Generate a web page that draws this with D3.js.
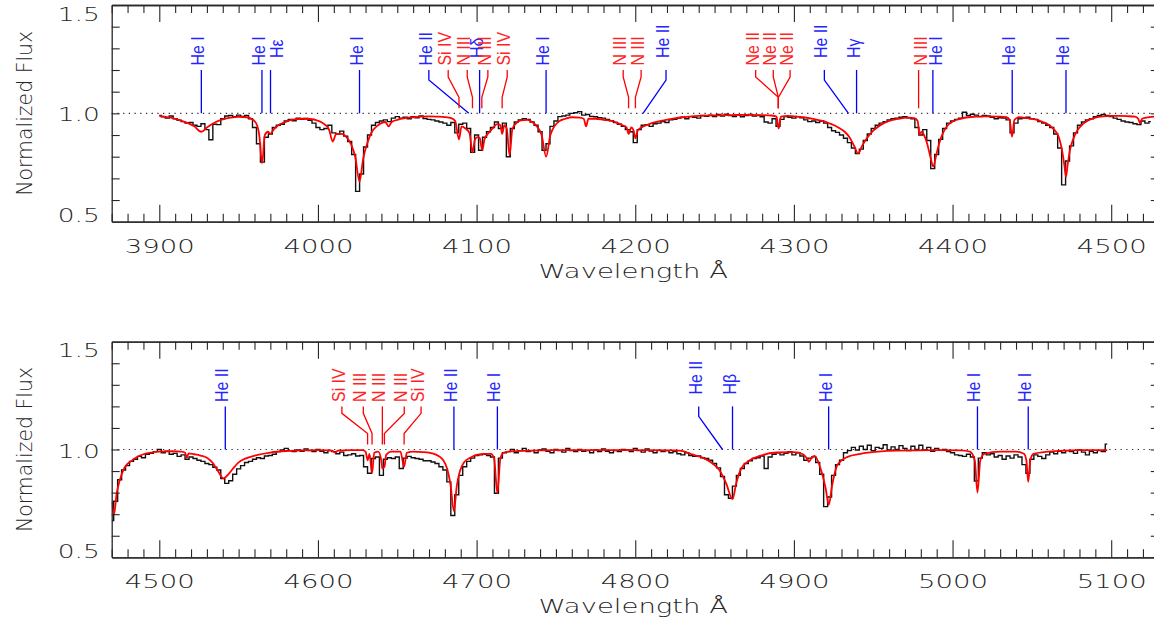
<!DOCTYPE html>
<html>
<head>
<meta charset="utf-8">
<script src="https://cdn.jsdelivr.net/npm/d3@7"></script>
<style>
body { margin: 0; background: #fff; }
svg { display: block; }
</style>
</head>
<body>
<svg id="chart" width="1154" height="622"></svg>
<script>
// ---- data ----

const obsStep = 2.5;               // observed spectrum bin width (Angstrom)
const topObsStart = 3900;
const topObsFlux = [
  .990, .984, .978, .988, .975, .968, .962, .955, .958, .945,
  .940, .952, .925, .878, .950, .948, .975, .988, .990, .985,
  .992, .986, .990, .975, .935, .860, .775, .890, .905, .935,
  .945, .950, .965, .972, .966, .978, .972, .976, .968, .955,
  .935, .925, .930, .945, .910, .905, .918, .895, .870, .810,
  .640, .720, .845, .900, .945, .958, .965, .970, .962, .978,
  .985, .978, .982, .975, .985, .980, .988, .976, .972, .970,
  .965, .960, .955, .945, .958, .910, .950, .955, .930, .820,
  .900, .830, .890, .915, .935, .960, .930, .955, .800, .930,
  .960, .970, .975, .972, .960, .945, .915, .830, .860, .940,
  .965, .985, .988, .992, 1.000, 1.003, 1.008, .992, .995, .986,
  .984, .980, .978, .972, .966, .958, .950, .940, .925, .915,
  .865, .925, .945, .948, .940, .952, .955, .962, .958, .970,
  .972, .978, .982, .975, .985, .982, .978, .990, .986, .992,
  .985, .995, .988, .996, .990, .985, .992, .984, .990, .995,
  .988, .990, .984, .960, .955, .975, .940, .972, .985, .982,
  .978, .985, .980, .970, .962, .965, .958, .965, .955, .935,
  .920, .912, .900, .885, .865, .840, .815, .835, .875, .905,
  .930, .945, .955, .962, .970, .975, .978, .982, .985, .980,
  .975, .935, .900, .925, .875, .745, .810, .880, .930, .955,
  .965, .972, .978, 1.005, .990, .996, .992, .985, .990, .988,
  .982, .975, .980, .978, .970, .910, .955, .975, .978, .982,
  .975, .972, .962, .955, .945, .935, .905, .840, .670, .780,
  .850, .910, .945, .960, .970, .975, .985, .990, .995, .990,
  .985, .978, .972, .965, .960, .958, .952, .948, .965, .955,
  .962
];

const topModel = [
  [3900, .988], [3910, .975], [3918, .955], [3922, .940], [3926.5, .915], [3930, .935],
  [3935, .958], [3940, .972], [3945, .980], [3950, .984], [3955, .982], [3958, .975],
  [3961, .955], [3963, .900], [3964.8, .770], [3966.5, .900], [3968.5, .915], [3970.1, .905],
  [3972, .925], [3975, .945], [3980, .962], [3985, .972], [3990, .975], [3995, .974],
  [4000, .966], [4004, .950], [4007, .925], [4009.3, .870], [4011.5, .905], [4015, .905],
  [4018, .890], [4021, .855], [4023.5, .800], [4026.2, .685], [4028.5, .790], [4031, .860],
  [4034, .915], [4037, .940], [4040, .955], [4042.5, .960], [4044.5, .940], [4046.5, .960],
  [4050, .970], [4055, .978], [4060, .982], [4065, .985], [4070, .986], [4075, .985],
  [4080, .983], [4084, .978], [4086.5, .965], [4088.9, .880], [4090.5, .940], [4093, .930],
  [4095.5, .910], [4097.4, .820], [4099, .880], [4100.5, .890], [4102, .885], [4103.5, .830],
  [4105, .880], [4107, .905], [4110, .930], [4113, .950], [4115, .945], [4116.1, .905],
  [4117.5, .945], [4119, .930], [4120.8, .805], [4122.5, .925], [4125, .955], [4128, .968],
  [4132, .970], [4135, .960], [4138, .940], [4141, .900], [4143.8, .800], [4146.5, .900],
  [4149, .940], [4152, .963], [4156, .975], [4160, .982], [4165, .980], [4167.5, .975],
  [4169, .940], [4170.5, .975], [4175, .975], [4180, .970], [4185, .965], [4189, .955],
  [4192, .945], [4194.5, .935], [4195.8, .905], [4197.5, .935], [4199, .920], [4200.1, .885],
  [4201.5, .920], [4204, .935], [4208, .948], [4212, .958], [4218, .968], [4224, .976],
  [4230, .982], [4240, .988], [4250, .991], [4260, .992], [4270, .993], [4280, .992],
  [4286, .990], [4289, .985], [4290.4, .930], [4291.8, .985], [4296, .988], [4300, .986],
  [4306, .982], [4312, .975], [4318, .965], [4323, .952], [4328, .935], [4332, .915],
  [4335, .890], [4338, .850], [4340.5, .815], [4343, .850], [4346, .885], [4350, .920],
  [4355, .948], [4360, .965], [4366, .975], [4372, .980], [4376, .978], [4378, .965],
  [4379.2, .900], [4380.5, .915], [4382, .900], [4384, .860], [4386, .800], [4387.9, .754],
  [4389.5, .800], [4391.5, .860], [4394, .910], [4397, .945], [4400, .962], [4405, .975],
  [4410, .982], [4420, .986], [4430, .985], [4434, .982], [4436, .970], [4437.5, .892],
  [4439, .970], [4442, .982], [4447, .978], [4452, .972], [4457, .960], [4461, .945],
  [4464, .925], [4467, .890], [4469, .830], [4470.5, .760], [4471.5, .708], [4472.5, .760],
  [4474, .830], [4476, .880], [4479, .925], [4482, .950], [4486, .970], [4490, .980],
  [4495, .986], [4500, .988], [4505, .988], [4510, .987], [4515, .985], [4517, .975],
  [4518.3, .954], [4519.5, .975], [4522, .980], [4527, .985]
];

const bottomObsStart = 4470;
const bottomObsFlux = [
  .670, .760, .860, .905, .925, .945, .955, .968, .962, .978,
  .982, .990, 1.000, .985, .992, .978, .982, .968, .975, .955,
  .965, .958, .950, .945, .935, .930, .918, .905, .865, .843,
  .855, .885, .910, .925, .940, .945, .955, .962, .958, .970,
  .972, .978, .990, .998, 1.005, .995, .990, .998, .992, 1.003,
  .995, .990, 1.000, .992, .985, .995, .990, .980, .988, .972,
  .975, .980, .970, .972, .920, .890, .958, .965, .880, .955,
  .962, .958, .965, .912, .960, .968, .962, .958, .955, .948,
  .948, .942, .935, .920, .905, .850, .694, .790, .880, .920,
  .945, .960, .972, .975, .978, .972, .965, .797, .960, .985,
  .990, 1.000, .985, .995, 1.005, .990, .995, .985, .998, 1.002,
  .992, .985, 1.000, .995, .988, 1.005, .995, .990, 1.000, .992,
  .995, .985, .998, .990, 1.003, .992, .985, .995, .990, 1.000,
  .998, .990, 1.005, .995, .988, 1.002, .993, .985, .996, .990,
  .995, .985, .990, .980, .975, .985, .972, .968, .970, .962,
  .958, .950, .935, .915, .875, .790, .774, .830, .880, .912,
  .935, .948, .958, .962, .970, .912, .965, .978, .985, .975,
  .982, .990, .975, .985, .970, .950, .960, .966, .940, .885,
  .735, .780, .880, .930, .950, .985, .995, 1.010, .998, 1.015,
  1.000, 1.020, .995, 1.010, 1.005, 1.022, .998, 1.012, 1.000, 1.018,
  1.005, .995, 1.015, 1.000, 1.020, .998, 1.010, .992, 1.005, .996,
  1.000, .990, .985, .975, .972, .968, .978, .965, .854, .960,
  .985, .975, .980, .965, .972, .955, .970, .960, .975, .965,
  .930, .890, .955, .975, .968, .958, .975, .988, .980, .992,
  .985, .995, .990, .982, .998, .988, .975, .992, .985, .995,
  .990, 1.025
];

const bottomModel = [
  [4470, .760], [4471.5, .700], [4473, .790], [4475, .855], [4478, .915], [4482, .945],
  [4486, .965], [4490, .978], [4495, .986], [4500, .990], [4508, .992], [4514, .990],
  [4516.3, .985], [4517.3, .962], [4518.5, .982], [4522, .978], [4526, .972], [4530, .962],
  [4534, .935], [4537, .900], [4540.5, .866], [4543.5, .885], [4546.5, .912], [4550, .940],
  [4555, .960], [4562, .975], [4570, .986], [4580, .993], [4590, .996], [4600, .997],
  [4608, .996], [4610, .990], [4611, .985], [4612.5, .995], [4620, .997], [4628, .997],
  [4630, .990], [4631.3, .950], [4632.5, .980], [4634.1, .890], [4635.5, .985], [4638, .990],
  [4640, .945], [4640.6, .912], [4641.9, .920], [4643, .975], [4646, .990], [4652, .990],
  [4654.3, .920], [4656, .985], [4660, .990], [4666, .988], [4672, .982], [4676, .970],
  [4679, .950], [4681.5, .910], [4683.5, .840], [4685.7, .715], [4687.5, .830], [4689.5, .900],
  [4692, .940], [4696, .962], [4700, .975], [4705, .980], [4709, .980], [4711, .960],
  [4713.1, .797], [4715, .960], [4717, .985], [4720, .990], [4730, .994], [4750, .997],
  [4780, .997], [4800, .997], [4825, .996], [4830, .992], [4836, .977], [4842.4, .962],
  [4848.8, .935], [4853, .905], [4857.3, .843], [4861.3, .770], [4863.7, .845], [4866.8, .912],
  [4872.2, .950], [4878.5, .970], [4889, .986], [4900, .988], [4906, .977], [4908, .960],
  [4909.4, .943], [4911, .960], [4913, .970], [4916.8, .912], [4920, .820], [4922, .743],
  [4924, .830], [4927.4, .928], [4933.8, .966], [4942, .980], [4953, .990], [4965, .995],
  [4990, .997], [5005, .996], [5011, .990], [5014, .950], [5015.7, .800], [5017.5, .950],
  [5020, .980], [5030, .990], [5040, .990], [5045, .980], [5046.5, .950], [5047.7, .850],
  [5049, .950], [5051, .980], [5060, .990], [5080, .997], [5097.5, .997]
];

// line identifications: wave = line position, label = where its tag sits
const topLines = [
  { ion: 'He I',  wave: 3926.5, label: 3926.5 },
  { ion: 'He I',  wave: 3964.7, label: 3964.7 },
  { ion: 'Hε',    wave: 3970.1, label: 3970.1 },
  { ion: 'He I',  wave: 4026.2, label: 4026.2 },
  { ion: 'He II', wave: 4095.1, label: 4069.9 },
  { ion: 'Si IV', wave: 4088.9, label: 4082.1 },
  { ion: 'N III', wave: 4097.4, label: 4094.1 },
  { ion: 'Hδ',    wave: 4101.9, label: 4101.9 },
  { ion: 'N III', wave: 4103.3, label: 4107.1 },
  { ion: 'Si IV', wave: 4116.1, label: 4119.3 },
  { ion: 'He I',  wave: 4143.8, label: 4143.8 },
  { ion: 'N III', wave: 4195.8, label: 4192.4 },
  { ion: 'N III', wave: 4200.1, label: 4203.7 },
  { ion: 'He II', wave: 4204.9, label: 4219.4 },
  { ion: 'Ne II', wave: 4290.2, label: 4275.9 },
  { ion: 'Ne II', wave: 4290.2, label: 4287.0 },
  { ion: 'Ne II', wave: 4290.2, label: 4297.6 },
  { ion: 'He II', wave: 4334.4, label: 4319.2 },
  { ion: 'Hγ',    wave: 4339.5, label: 4339.5 },
  { ion: 'N III', wave: 4378.6, label: 4378.6 },
  { ion: 'He I',  wave: 4387.6, label: 4387.6 },
  { ion: 'He I',  wave: 4437.6, label: 4437.6 },
  { ion: 'He I',  wave: 4471.5, label: 4471.5 }
];

const bottomLines = [
  { ion: 'He II', wave: 4541.6, label: 4541.6 },
  { ion: 'Si IV', wave: 4631.3, label: 4615.1 },
  { ion: 'N III', wave: 4634.1, label: 4628.6 },
  { ion: 'N III', wave: 4640.6, label: 4640.6 },
  { ion: 'N III', wave: 4641.9, label: 4654.4 },
  { ion: 'Si IV', wave: 4654.3, label: 4665.0 },
  { ion: 'He II', wave: 4685.7, label: 4685.7 },
  { ion: 'He I',  wave: 4713.1, label: 4713.1 },
  { ion: 'He II', wave: 4855.0, label: 4840.0 },
  { ion: 'Hβ',    wave: 4861.3, label: 4861.3 },
  { ion: 'He I',  wave: 4921.9, label: 4921.9 },
  { ion: 'He I',  wave: 5015.7, label: 5015.7 },
  { ion: 'He I',  wave: 5047.7, label: 5047.7 }
];

const topXTicks = [3900, 4000, 4100, 4200, 4300, 4400, 4500];
const bottomXTicks = [4500, 4600, 4700, 4800, 4900, 5000, 5100];
const yTickLabels = [0.5, 1.0, 1.5];
const xTitle = 'Wavelength Å';
const yTitle = 'Normalized Flux';

// ---- layout / style ----
const LEFT = 111.7, RIGHT = 1158.8;
const BLUE = '#0000ff', RED = '#ff0000', INK = '#262626';
const AXIS_FONT = 'DejaVu Sans ExtraLight, DejaVu Sans, sans-serif';
const raisedTags = [3970.1, 4101.9, 4204.9, 4334.4, 4339.5, 4855.0, 4861.3];
const tagShift = { 3970.1: 9, 4378.6: 5, 4387.6: 6 };

const svg = d3.select('#chart');

function isHot(ion) {
  return ion.startsWith('H');
}

function stretchText(sel, perChar) {
  sel.attr('textLength', function() { return this.textContent.length * perChar; })
     .attr('lengthAdjust', 'spacingAndGlyphs');
}

function drawPanel(cfg, idx) {
  const x = d3.scaleLinear().domain(cfg.xDomain).range([LEFT, RIGHT]);
  const y = d3.scaleLinear().domain([0.5, 1.5]).range([cfg.bottom, cfg.top]);
  const g = svg.append('g');

  g.append('clipPath').attr('id', 'clip' + idx)
    .append('rect').attr('x', LEFT).attr('y', cfg.top)
    .attr('width', RIGHT - LEFT).attr('height', cfg.bottom - cfg.top);

  // continuum reference
  g.append('line')
    .attr('x1', LEFT).attr('x2', RIGHT)
    .attr('y1', y(1)).attr('y2', y(1))
    .attr('stroke', '#333').attr('stroke-width', 1.1)
    .attr('stroke-dasharray', '1.3,4.4');

  // observed spectrum (histogram)
  const obs = cfg.obsFlux.map((f, i) => [cfg.obsStart + i * obsStep, f]);
  const plot = g.append('g').attr('clip-path', 'url(#clip' + idx + ')');
  plot.append('path')
    .datum(obs)
    .attr('fill', 'none').attr('stroke', '#111').attr('stroke-width', 1.4)
    .attr('d', d3.line().x(d => x(d[0])).y(d => y(d[1])).curve(d3.curveStep));

  // model
  plot.append('path')
    .datum(cfg.model)
    .attr('fill', 'none').attr('stroke', RED).attr('stroke-width', 1.8)
    .attr('d', d3.line().x(d => x(d[0])).y(d => y(d[1])).curve(d3.curveMonotoneX));

  // line identifications
  const yTop = y(1.2), yCont = y(1.0);
  cfg.lines.forEach(l => {
    const hot = isHot(l.ion);
    const col = hot ? BLUE : RED;
    const xl = x(l.label), xw = x(l.wave);
    const yEnd = hot ? yCont : yCont - 5;
    let pts;
    if (Math.abs(xl - xw) < 1) {
      pts = [[xl, yTop], [xl, yEnd]];
    } else if (hot) {
      pts = [[xl, yTop], [xl, yTop + 10], [xw, yEnd]];
    } else {
      pts = [[xl, yTop], [xl, yTop + 7], [xw, yCont - 16], [xw, yEnd]];
    }
    g.append('path')
      .attr('d', d3.line()(pts))
      .attr('fill', 'none').attr('stroke', col).attr('stroke-width', 1.3);

    const lift = raisedTags.includes(l.wave) ? 12 : 4.5;
    const tx = xl + 3 + (tagShift[l.wave] || 0), ty = yTop - lift;
    const t = g.append('text')
      .attr('transform', `translate(${tx},${ty}) rotate(-90)`)
      .attr('font-family', 'Liberation Sans, Arial, sans-serif')
      .attr('font-size', 18)
      .attr('fill', hot ? '#2424ff' : '#ff2424')
      .text(l.ion);
    // squeeze along the reading direction, like the plotting-package font
    const w = t.node().getComputedTextLength();
    t.attr('textLength', w * 0.88).attr('lengthAdjust', 'spacingAndGlyphs');
  });

  // axes
  const minorX = d3.range(cfg.xDomain[0], cfg.xDomain[1] + 1, 10).filter(v => v % 100 !== 0);
  const styleAxis = a => {
    a.select('.domain').attr('stroke', INK).attr('stroke-width', 1.3);
    a.selectAll('.tick line').attr('stroke', INK).attr('stroke-width', 1.1);
  };

  g.append('g').attr('transform', `translate(0,${cfg.bottom})`)
    .call(d3.axisBottom(x).tickValues(minorX).tickSize(-8).tickSizeOuter(0).tickFormat(''))
    .call(styleAxis);
  const xb = g.append('g').attr('transform', `translate(0,${cfg.bottom})`)
    .call(d3.axisBottom(x).tickValues(cfg.xTicks).tickSize(-17).tickSizeOuter(0).tickFormat(d3.format('d')))
    .call(styleAxis);
  xb.selectAll('text')
    .attr('y', 31).attr('dy', 0)
    .attr('font-family', AXIS_FONT).attr('font-weight', 200).attr('font-size', 20)
    .attr('fill', INK)
    .call(stretchText, 17.5);

  g.append('g').attr('transform', `translate(0,${cfg.top})`)
    .call(d3.axisTop(x).tickValues(minorX).tickSize(-8).tickSizeOuter(0).tickFormat(''))
    .call(styleAxis);
  g.append('g').attr('transform', `translate(0,${cfg.top})`)
    .call(d3.axisTop(x).tickValues(cfg.xTicks).tickSize(-17).tickSizeOuter(0).tickFormat(''))
    .call(styleAxis);

  const yMinor = d3.range(0.6, 1.45, 0.1);
  g.append('g').attr('transform', `translate(${LEFT},0)`)
    .call(d3.axisLeft(y).tickValues(yMinor).tickSize(-8).tickSizeOuter(0).tickFormat(''))
    .call(styleAxis);
  g.append('g').attr('transform', `translate(${RIGHT},0)`)
    .call(d3.axisRight(y).tickValues(yMinor).tickSize(-8).tickSizeOuter(0).tickFormat(''))
    .call(styleAxis);

  const yl = g.append('g').attr('transform', `translate(${LEFT},0)`)
    .call(d3.axisLeft(y).tickValues(yTickLabels).tickSize(0).tickFormat(d3.format('.1f')));
  yl.select('.domain').remove();
  yl.selectAll('text')
    .attr('x', -12)
    .attr('dy', 0)
    .attr('y', (d, i) => [0, 7.5, 15][i])
    .attr('text-anchor', 'end')
    .attr('font-family', AXIS_FONT).attr('font-weight', 200).attr('font-size', 20)
    .attr('fill', INK)
    .call(stretchText, 14);

  // titles
  g.append('text')
    .attr('x', (LEFT + RIGHT) / 2 - 2).attr('y', cfg.bottom + 56)
    .attr('text-anchor', 'middle')
    .attr('font-family', AXIS_FONT).attr('font-weight', 200).attr('font-size', 20)
    .attr('fill', INK)
    .text(xTitle)
    .call(stretchText, 15.8);

  g.append('text')
    .attr('transform', `translate(32,${(cfg.top + cfg.bottom) / 2}) rotate(-90)`)
    .attr('text-anchor', 'middle')
    .attr('font-family', AXIS_FONT).attr('font-weight', 200).attr('font-size', 21)
    .attr('fill', INK)
    .text(yTitle)
    .call(stretchText, 11);
}

drawPanel({
  xDomain: [3870, 4530], top: 5, bottom: 221.7, xTicks: topXTicks,
  obsStart: topObsStart, obsFlux: topObsFlux, model: topModel, lines: topLines
}, 0);

drawPanel({
  xDomain: [4470, 5130], top: 341.7, bottom: 557.3, xTicks: bottomXTicks,
  obsStart: bottomObsStart, obsFlux: bottomObsFlux, model: bottomModel, lines: bottomLines
}, 1);
</script>
</body>
</html>
